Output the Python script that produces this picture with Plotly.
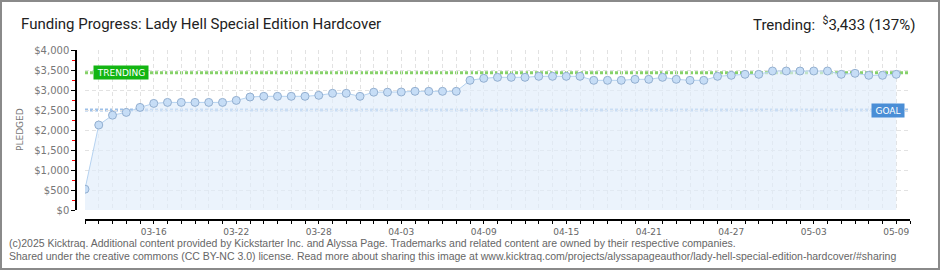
import plotly.graph_objects as go
import pandas as pd

# ---------------- data ----------------
dates = pd.date_range("2025-03-11", "2025-05-09", freq="D")
pledged = [
    520, 2125, 2370, 2440, 2565, 2665, 2690, 2690, 2690, 2690,
    2690, 2740, 2825, 2842, 2842, 2842, 2842, 2867, 2917, 2917,
    2842, 2945, 2945, 2950, 2967, 2967, 2967, 2967, 3242, 3292,
    3317, 3317, 3317, 3342, 3342, 3342, 3342, 3242, 3242, 3242,
    3267, 3267, 3317, 3267, 3242, 3242, 3342, 3367, 3392, 3392,
    3475, 3475, 3475, 3475, 3475, 3392, 3417, 3367, 3367, 3392,
]
goal = 2500
trending = 3433
x_labels = ["03-16", "03-22", "03-28", "04-03", "04-09", "04-15",
            "04-21", "04-27", "05-03", "05-09"]
y_ticks = [0, 500, 1000, 1500, 2000, 2500, 3000, 3500, 4000]
y_labels = ["$0", "$500", "$1,000", "$1,500", "$2,000", "$2,500", "$3,000", "$3,500", "$4,000"]

title_text = "Funding Progress: Lady Hell Special Edition Hardcover"
trend_text = "Trending:  <sup>$</sup>3,433 (137%)"
footer1 = ("(c)2025 Kicktraq. Additional content provided by Kickstarter Inc. and Alyssa Page. "
           "Trademarks and related content are owned by their respective companies.")
footer2 = ("Shared under the creative commons (CC BY-NC 3.0) license. Read more about sharing this image at "
           "www.kicktraq.com/projects/alyssapageauthor/lady-hell-special-edition-hardcover/#sharing")

# ---------------- geometry ----------------
W_PX, H_PX = 940, 270
L, R, T, B = 76, 30, 50, 50
pw = W_PX - L - R
ph = H_PX - T - B


def px(x):
    return (x - L) / pw


def py(y):
    return (H_PX - B - y) / ph


x_end = dates[-1] + pd.Timedelta(days=1)
label_dates = [pd.Timestamp("2025-" + s) for s in x_labels]
DAY = 86400000

fig = go.Figure()
fig.add_trace(go.Scatter(
    x=dates, y=pledged, mode="lines+markers",
    line=dict(color="#b5d2f0", width=1),
    fill="tozeroy", fillcolor="rgba(224,237,251,0.65)",
    marker=dict(size=8, color="#c6ddf6", line=dict(color="#93afd0", width=1)),
    hoverinfo="skip", showlegend=False,
))

shapes = [
    dict(type="line", xref="x", yref="y", x0=dates[0], x1=x_end, y0=trending, y1=trending,
         line=dict(color="#86d16a", width=3, dash="3px,2px"), layer="below"),
    dict(type="line", xref="x", yref="y", x0=dates[0], x1=x_end, y0=goal, y1=goal,
         line=dict(color="#9dc0e8", width=3, dash="3px,2px"), layer="below"),
    dict(type="rect", xref="paper", yref="paper", x0=px(1), x1=px(939), y0=py(269), y1=py(1),
         line=dict(color="#8a8a8a", width=2), fillcolor="rgba(0,0,0,0)"),
]

annotations = [
    dict(xref="paper", yref="paper", x=px(19), y=py(24), xanchor="left", yanchor="middle",
         text=title_text, showarrow=False,
         font=dict(family="Roboto", size=15, color="#222")),
    dict(xref="paper", yref="paper", x=px(917), y=py(24), xanchor="right", yanchor="middle",
         text=trend_text, showarrow=False,
         font=dict(family="Roboto", size=15, color="#222")),
    dict(xref="paper", yref="paper", x=px(7), y=py(243), xanchor="left", yanchor="middle",
         text=footer1, showarrow=False,
         font=dict(family="Liberation Sans", size=10.5, color="#666")),
    dict(xref="paper", yref="paper", x=px(7), y=py(256), xanchor="left", yanchor="middle",
         text=footer2, showarrow=False,
         font=dict(family="Liberation Sans", size=10.5, color="#666")),
    dict(xref="paper", yref="paper", x=px(20), y=py(130), xanchor="center", yanchor="middle",
         text="PLEDGED", textangle=-90, showarrow=False,
         font=dict(family="DejaVu Sans", size=9, color="#777")),
    dict(xref="paper", yref="paper", x=px(120.5), y=py(72.7), xanchor="center", yanchor="middle",
         text="TRENDING", showarrow=False, width=52, height=11, bgcolor="#13b513",
         borderpad=1, font=dict(family="DejaVu Sans", size=9, color="white")),
    dict(xref="paper", yref="paper", x=px(888), y=py(110), xanchor="center", yanchor="middle",
         text="GOAL", showarrow=False, width=30, height=11, bgcolor="#4a8ed6",
         borderpad=1, font=dict(family="DejaVu Sans", size=9, color="white")),
]

fig.update_layout(
    width=W_PX, height=H_PX,
    margin=dict(l=L, r=R, t=T, b=B, pad=0),
    paper_bgcolor="white", plot_bgcolor="white",
    shapes=shapes, annotations=annotations,
    xaxis=dict(
        domain=[px(85), 1], anchor="free", position=0,
        range=[dates[0], x_end], type="date",
        tickmode="array", tickvals=label_dates, ticktext=x_labels,
        showline=True, linecolor="black", linewidth=1.5,
        ticks="outside", ticklen=3, tickcolor="black", tickwidth=1,
        showgrid=True, gridcolor="#e2e2e2", griddash="4px,3px", gridwidth=1,
        minor=dict(ticks="outside", ticklen=3, tickcolor="black", tickwidth=1,
                   dtick=DAY, tick0=dates[0],
                   showgrid=True, gridcolor="#e2e2e2", griddash="4px,3px", gridwidth=1),
        tickfont=dict(family="DejaVu Sans", size=9, color="#666"),
        zeroline=False,
    ),
    yaxis=dict(
        domain=[py(210), 1], anchor="free", position=0,
        range=[0, 4000],
        tickmode="array", tickvals=y_ticks, ticktext=y_labels,
        showline=True, linecolor="black", linewidth=1.5,
        ticks="outside", ticklen=4, tickcolor="black", tickwidth=1,
        minor=dict(ticks="outside", ticklen=3, tickcolor="red", dtick=250, tick0=0, showgrid=False),
        showgrid=True, gridcolor="#e2e2e2", griddash="4px,3px", gridwidth=1,
        tickfont=dict(family="DejaVu Sans", size=10, color="#777"),
        zeroline=False,
    ),
)

fig.write_html("out.html")
